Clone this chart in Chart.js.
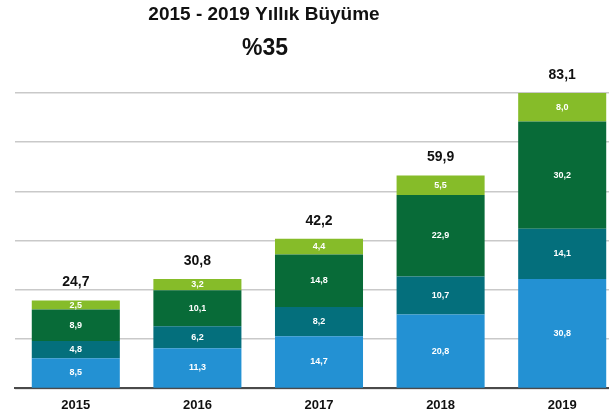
<!DOCTYPE html>
<html>
<head>
<meta charset="utf-8">
<script src="https://cdn.jsdelivr.net/npm/chart.js@4/dist/chart.umd.min.js"></script>
<style>
  html, body { margin: 0; padding: 0; background: #fff; overflow: hidden; }
  #wrap { width: 623px; height: 419px; }
</style>
</head>
<body>
<div id="wrap"><canvas id="myChart"></canvas></div>
<script>
// data
var years = ['2015', '2016', '2017', '2018', '2019'];
var serie1 = [8.5, 11.3, 14.7, 20.8, 30.8];
var serie2 = [4.8, 6.2, 8.2, 10.7, 14.1];
var serie3 = [8.9, 10.1, 14.8, 22.9, 30.2];
var serie4 = [2.5, 3.2, 4.4, 5.5, 8.0];
var totals = [24.7, 30.8, 42.2, 59.9, 83.1];
var titleText = '2015 - 2019 Yıllık Büyüme';
var growthText = '%35';

var couleurs = ['#2391d3', '#046f7c', '#086b38', '#86bc29'];

function virgule(v) {
    return v.toFixed(1).replace('.', ',');
}

var labelsPlugin = {
    id: 'etiquettes',
    afterDatasetsDraw: function(chart) {
        var ctx = chart.ctx;
        ctx.save();
        ctx.textAlign = 'center';
        ctx.textBaseline = 'middle';
        // values inside segments
        ctx.fillStyle = '#ffffff';
        ctx.font = 'bold 9px "Liberation Sans", Arial, sans-serif';
        chart.data.datasets.forEach(function(ds, i) {
            var meta = chart.getDatasetMeta(i);
            meta.data.forEach(function(bar, j) {
                ctx.fillText(virgule(ds.data[j]), bar.x, (bar.y + bar.base) / 2);
            });
        });
        // totals above bars
        var top = chart.getDatasetMeta(chart.data.datasets.length - 1);
        ctx.fillStyle = '#111111';
        ctx.font = 'bold 14px "Liberation Sans", Arial, sans-serif';
        top.data.forEach(function(bar, j) {
            ctx.fillText(virgule(totals[j]), bar.x, bar.y - 18);
        });
        // header
        ctx.font = 'bold 19px "Liberation Sans", Arial, sans-serif';
        ctx.fillText(titleText, 264, 15);
        ctx.font = 'bold 23px "Liberation Sans", Arial, sans-serif';
        ctx.fillText(growthText, 265, 49);
        ctx.restore();
    }
};

var graphique = new Chart(document.getElementById('myChart').getContext('2d'), {
    type: 'bar',
    data: {
        labels: years,
        datasets: [
            { data: serie1, backgroundColor: couleurs[0] },
            { data: serie2, backgroundColor: couleurs[1] },
            { data: serie3, backgroundColor: couleurs[2] },
            { data: serie4, backgroundColor: couleurs[3] }
        ]
    },
    options: {
        responsive: true,
        maintainAspectRatio: false,
        animation: false,
        categoryPercentage: 1,
        barPercentage: 0.724,
        layout: { padding: { top: 93, left: 15, right: 0, bottom: -3 } },
        plugins: {
            legend: { display: false },
            tooltip: { enabled: false }
        },
        scales: {
            x: {
                stacked: true,
                grid: { display: false, drawTicks: false },
                border: { color: '#4a4a4a', width: 2 },
                ticks: {
                    color: '#111111',
                    padding: 9,
                    font: { family: '"Liberation Sans", Arial, sans-serif', size: 13, weight: 'bold' }
                }
            },
            y: {
                stacked: true,
                min: 0,
                max: 83.1,
                border: { display: false },
                grid: { color: '#c9c9c9', lineWidth: 1.5, drawTicks: false },
                ticks: { display: false, count: 7 }
            }
        }
    },
    plugins: [labelsPlugin]
});
</script>
</body>
</html>
